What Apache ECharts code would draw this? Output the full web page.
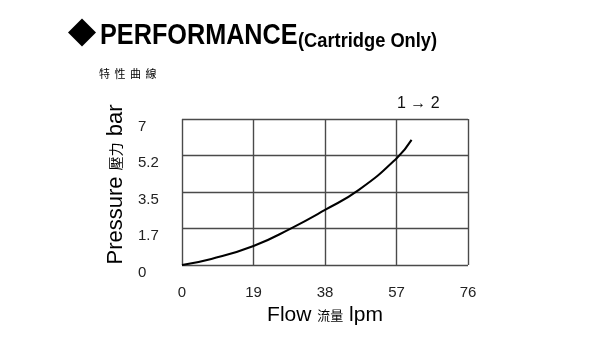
<!DOCTYPE html>
<html><head><meta charset="utf-8">
<script src="https://cdn.jsdelivr.net/npm/echarts@6/dist/echarts.min.js"></script>
<style>html,body{margin:0;padding:0;background:#fff}#c{width:600px;height:350px}</style>
</head><body><div id="c"></div>
<script>
const flow = [0, 7.8, 19, 29, 38, 47, 57, 61];
const pressure = [0, 0.29, 0.91, 1.76, 2.64, 3.6, 5.11, 6.0];
const xTicks = [0, 19, 38, 57, 76];
const yTickLabels = ['0', '1.7', '3.5', '5.2', '7'];
const seriesName = '1 → 2';
const titleMain = 'PERFORMANCE';
const titleSub = '(Cartridge Only)';
const subTitle = ['特', '性', '曲', '線'];

const chart = echarts.init(document.getElementById('c'));
const F = 'Liberation Sans, Arial, sans-serif';
const CJK = 'Noto Sans CJK TC';
chart.setOption({
  animation: false,
  title: [{
    text: subTitle.map(c => '{a|' + c + '}').join(''), left: 94, top: 63,
    textStyle: { rich: { a: { fontSize: 11, fontWeight: 'normal', fontFamily: CJK, color: '#000', padding: [0, 4.5, 0, 0] } } }
  }, {
    text: seriesName, left: 392, top: 91,
    textStyle: { fontSize: 16, fontWeight: 'normal', fontFamily: F, color: '#111' }
  }],
  graphic: [
    { type: 'polygon', shape: { points: [[68, 32.5], [82, 18.5], [96, 32.5], [82, 46.5]] }, style: { fill: '#000' } },
    { type: 'text', x: 100, y: 36, scaleX: 0.87,
      style: { text: titleMain, fontSize: 29, fontWeight: 'bold', fontFamily: F, fill: '#000', align: 'left', verticalAlign: 'middle' } },
    { type: 'text', x: 298, y: 41, scaleX: 0.87,
      style: { text: titleSub, fontSize: 21, fontWeight: 'bold', fontFamily: F, fill: '#000', align: 'left', verticalAlign: 'middle' } }
  ],
  grid: { left: 182, right: 132, top: 119, bottom: 85 },
  xAxis: {
    type: 'value', min: 0, max: 76, interval: 19,
    name: '{a|Flow }{b|流量}{a| lpm}', nameLocation: 'middle', nameGap: 40,
    nameTextStyle: { rich: {
      a: { fontSize: 21, fontFamily: F, color: '#000' },
      b: { fontSize: 13, fontFamily: CJK, color: '#000' }
    } },
    axisLine: { show: false }, axisTick: { show: false },
    axisLabel: { fontSize: 15, fontFamily: F, color: '#222', margin: 20,
      formatter: (v) => String(xTicks[Math.round(v / 19)]) },
    splitLine: { show: true, lineStyle: { color: '#4a4a4a', width: 1.4 } }
  },
  yAxis: {
    type: 'value', min: 0, max: 7, interval: 1.75,
    name: '{a|Pressure }{b|壓力}{a| bar}', nameLocation: 'middle', nameGap: 55, nameRotate: 90,
    nameTextStyle: { padding: [0, 0, 0, 15], rich: {
      a: { fontSize: 22, fontFamily: F, color: '#000' },
      b: { fontSize: 14, fontFamily: CJK, color: '#000' }
    } },
    axisLine: { show: false }, axisTick: { show: false },
    axisLabel: {
      fontSize: 15, fontFamily: F, color: '#222', margin: 44, align: 'left', verticalAlign: 'top',
      formatter: (v) => yTickLabels[Math.round(v / 1.75)]
    },
    splitLine: { show: true, lineStyle: { color: '#4a4a4a', width: 1.4 } }
  },
  series: [{
    name: seriesName, type: 'line', smooth: 0.5, symbol: 'none',
    lineStyle: { color: '#000', width: 2 },
    data: flow.map((f, i) => [f, pressure[i]])
  }]
});
</script></body></html>
